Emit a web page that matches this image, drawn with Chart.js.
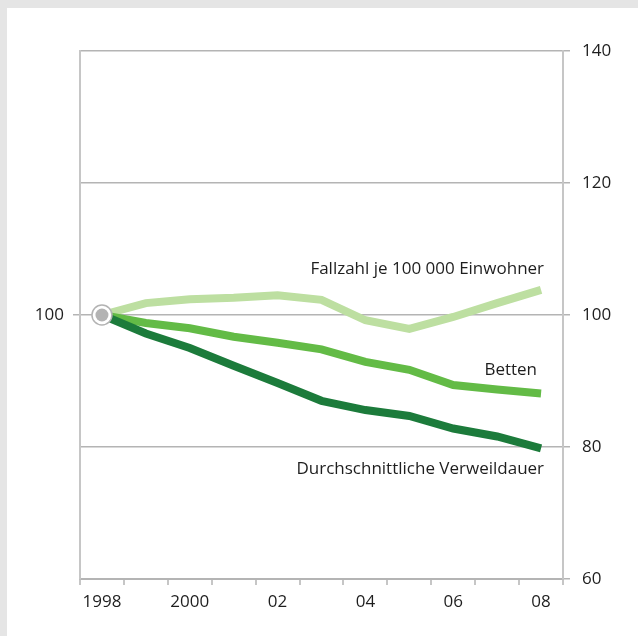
<!DOCTYPE html>
<html>
<head>
<meta charset="utf-8">
<script src="https://cdn.jsdelivr.net/npm/chart.js@4.4.1/dist/chart.umd.min.js"></script>
<style>
  html, body { margin: 0; padding: 0; background: #fff; }
  #frame { width: 631px; height: 628px; border-top: 8px solid #e5e5e5; border-left: 7px solid #e5e5e5; background: #fff; }
  #wrap { position: relative; width: 631px; height: 628px; }
</style>
</head>
<body>
<div id="frame"><div id="wrap"><canvas id="c" width="631" height="628"></canvas></div></div>
<script>
const years = ['1998','1999','2000','2001','2002','2003','2004','2005','2006','2007','2008'];
const tickLabels = ['1998','','2000','','02','','04','','06','','08'];
const fallzahl = [100, 101.8, 102.4, 102.6, 103.0, 102.3, 99.2, 97.9, 99.7, 101.8, 103.8];
const betten = [100, 98.8, 98.0, 96.7, 95.8, 94.8, 92.9, 91.7, 89.4, 88.7, 88.1];
const verweildauer = [100, 97.2, 95.0, 92.3, 89.7, 87.0, 85.6, 84.7, 82.8, 81.6, 79.8];
const seriesNames = ['Fallzahl je 100 000 Einwohner', 'Betten', 'Durchschnittliche Verweildauer'];
const baseValue = [100, null, null, null, null, null, null, null, null, null, null];
const yTicks = [60, 80, 100, 120, 140];

const FONT = '"Open Sans", "Noto Sans", sans-serif';
const GRID = '#b4b4b4';
const AXIS = '#c6c6c6';

const labelPlugin = {
  id: 'seriesLabels',
  afterDatasetsDraw(chart, args, opts) {
    const ctx = chart.ctx;
    const xs = chart.scales.x, ys = chart.scales.y;
    ctx.save();
    ctx.font = '17px ' + FONT;
    ctx.fillStyle = '#1e1e1e';
    ctx.textAlign = 'right';
    ctx.textBaseline = 'middle';
    opts.items.forEach(it => {
      const x = xs.getPixelForValue(years.length - 1) + it.dx;
      const y = ys.getPixelForValue(it.v);
      ctx.fillText(it.text, x, y);
    });
    ctx.restore();
  }
};

new Chart(document.getElementById('c'), {
  type: 'line',
  data: {
    labels: years,
    datasets: [
      { label: 'base-inner', data: baseValue, yAxisID: 'y', showLine: false, pointRadius: 6.5, pointBackgroundColor: '#b3b3b3', pointBorderWidth: 0, order: 0 },
      { label: 'base-outer', data: baseValue, yAxisID: 'y', showLine: false, pointRadius: 10, pointBackgroundColor: '#ffffff', pointBorderColor: '#b3b3b3', pointBorderWidth: 1.5, order: 1 },
      { label: seriesNames[0], data: fallzahl, yAxisID: 'y', borderColor: '#bddfa1', borderWidth: 8, pointRadius: 0, tension: 0, fill: false, order: 4 },
      { label: seriesNames[1], data: betten, yAxisID: 'y', borderColor: '#63bb46', borderWidth: 8, pointRadius: 0, tension: 0, fill: false, order: 3 },
      { label: seriesNames[2], data: verweildauer, yAxisID: 'y', borderColor: '#1c7b3b', borderWidth: 8, pointRadius: 0, tension: 0, fill: false, order: 2 }
    ]
  },
  options: {
    responsive: false,
    animation: false,
    events: [],
    layout: { padding: { top: 43, left: 0, right: 0, bottom: 0 } },
    plugins: {
      legend: { display: false },
      tooltip: { enabled: false },
      seriesLabels: {
        items: [
          { text: seriesNames[0], v: 106.9, dx: 3 },
          { text: seriesNames[1], v: 91.6, dx: -4 },
          { text: seriesNames[2], v: 76.7, dx: 3 }
        ]
      }
    },
    scales: {
      x: {
        type: 'category',
        offset: true,
        afterFit(s) { s.height = 57; },
        grid: { display: true, drawOnChartArea: false, offset: true, tickLength: 6, color: AXIS, lineWidth: 2 },
        border: { display: true, color: GRID, width: 2 },
        ticks: {
          autoSkip: false, maxRotation: 0, padding: 7,
          color: '#1e1e1e', font: { family: FONT, size: 17 },
          callback: (v, i) => tickLabels[i]
        }
      },
      y: {
        position: 'right',
        min: 60, max: 140,
        afterFit(s) { s.width = 75; },
        afterBuildTicks(s) { s.ticks = yTicks.map(v => ({ value: v })); },
        grid: { drawOnChartArea: true, tickLength: 7, color: GRID, lineWidth: 1.5 },
        border: { display: true, color: AXIS, width: 2 },
        ticks: { padding: 12, color: '#1e1e1e', font: { family: FONT, size: 17 } }
      },
      yLeft: {
        position: 'left',
        min: 60, max: 140,
        afterFit(s) { s.width = 73; },
        afterBuildTicks(s) { s.ticks = yTicks.map(v => ({ value: v })); },
        grid: { drawOnChartArea: false, tickLength: 7, color: ctx => (ctx.tick && ctx.tick.value === 100) ? GRID : 'rgba(0,0,0,0)', lineWidth: 1.5 },
        border: { display: true, color: AXIS, width: 2 },
        ticks: { padding: 9, color: '#1e1e1e', font: { family: FONT, size: 17 }, callback: v => v === 100 ? '100' : '' }
      }
    }
  },
  plugins: [labelPlugin]
});
</script>
</body>
</html>
